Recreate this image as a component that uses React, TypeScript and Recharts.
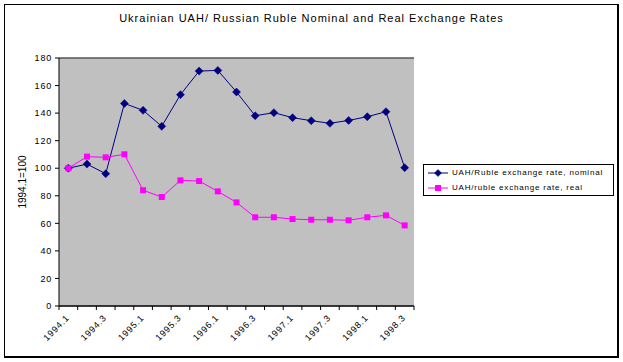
import React from "react";
import { CartesianGrid, Line, LineChart, ReferenceLine, XAxis, YAxis } from "recharts";

const quarters = [
  "1994.1", "1994.2", "1994.3", "1994.4",
  "1995.1", "1995.2", "1995.3", "1995.4",
  "1996.1", "1996.2", "1996.3", "1996.4",
  "1997.1", "1997.2", "1997.3", "1997.4",
  "1998.1", "1998.2", "1998.3",
];
const nominal = [100, 103, 96, 147, 142, 130.4, 153.4, 170.5, 171, 155.3, 138.1, 140.3, 136.7, 134.5, 132.6, 134.7, 137.4, 141, 100.4];
const real = [100, 108.4, 107.9, 110.1, 84, 79.1, 91.2, 90.7, 83.2, 75.2, 64.4, 64.4, 63.1, 62.6, 62.6, 62.2, 64.4, 65.8, 58.5];
const yTicks = [0, 20, 40, 60, 80, 100, 120, 140, 160, 180];

const NOMINAL_LABEL = "UAH/Ruble exchange rate, nominal";
const REAL_LABEL = "UAH/ruble exchange rate, real";
const NAVY = "#000080";
const PINK = "#FF00FF";

const data = quarters.map((q, i) => ({ q, nominal: nominal[i], real: real[i] }));

const PLOT_LEFT = 59;
const PLOT_RIGHT = 414;
const HALF_BAND = (PLOT_RIGHT - PLOT_LEFT) / quarters.length / 2;
const FONT = "'Liberation Sans', Arial, sans-serif";

function Diamond({ cx, cy, r = 4 }: { cx: number; cy: number; r?: number }) {
  if (cx == null || cy == null) return null;
  return <polygon points={`${cx},${cy - r} ${cx + r},${cy} ${cx},${cy + r} ${cx - r},${cy}`} fill={NAVY} stroke={NAVY} strokeWidth={0.5} />;
}

function Square({ cx, cy, s = 3 }: { cx: number; cy: number; s?: number }) {
  if (cx == null || cy == null) return null;
  return <rect x={cx - s} y={cy - s} width={s * 2} height={s * 2} fill={PINK} />;
}

function XTick(props: any) {
  const { x, y, payload } = props;
  const idx = quarters.indexOf(payload.value);
  const showLabel = idx % 2 === 0;
  return (
    <g>
      <line x1={x - HALF_BAND} x2={x - HALF_BAND} y1={y} y2={y + 4} stroke="#000" />
      {idx === quarters.length - 1 && <line x1={x + HALF_BAND} x2={x + HALF_BAND} y1={y} y2={y + 4} stroke="#000" />}
      {showLabel && (
        <text x={x - 3} y={y + 8} transform={`rotate(-45, ${x - 3}, ${y + 8})`} textAnchor="end" dy="0.71em" fontSize={9} fontFamily={FONT} letterSpacing={0.8} fill="#000">
          {payload.value}
        </text>
      )}
    </g>
  );
}

function LegendBox() {
  const row = (label: string, color: string, marker: React.ReactNode) => (
    <div style={{ display: "flex", alignItems: "center", height: 15 }}>
      <svg width={22} height={12} style={{ marginRight: 3 }}>
        <line x1={1} x2={21} y1={6} y2={6} stroke={color} strokeWidth={1} />
        {marker}
      </svg>
      <span style={{ fontSize: 8, letterSpacing: 0.8, fontFamily: FONT, whiteSpace: "nowrap" }}>{label}</span>
    </div>
  );
  return (
    <div style={{ position: "absolute", left: 423, top: 164, border: "1px solid #000", background: "#fff", width: 186, padding: "0 0 0 3px" }}>
      {row(NOMINAL_LABEL, NAVY, <Diamond cx={11} cy={6} r={3.5} />)}
      {row(REAL_LABEL, PINK, <Square cx={11} cy={6} />)}
    </div>
  );
}

export default function App() {
  return (
    <div style={{ position: "absolute", left: 0, top: 0, width: 623, height: 362, background: "#fff", fontFamily: FONT }}>
      <div style={{ position: "absolute", left: 4, top: 4, width: 612, height: 351, borderLeft: "1px solid #000", borderTop: "1px solid #000", borderRight: "2px solid #000", borderBottom: "2px solid #000" }} />
      <div style={{ position: "absolute", left: 0, width: 623, top: 12, textAlign: "center", fontSize: 11, letterSpacing: 1, color: "#000" }}>
        Ukrainian UAH/ Russian Ruble Nominal and Real Exchange Rates
      </div>
      <div style={{ position: "absolute", left: 22, top: 182, transform: "translate(-50%, -50%) rotate(-90deg)", fontSize: 10, whiteSpace: "nowrap", color: "#000" }}>
        1994.1=100
      </div>
      <LineChart width={623} height={362} data={data} margin={{ top: 58, right: 623 - PLOT_RIGHT, left: PLOT_LEFT - 30, bottom: 6 }} style={{ position: "absolute", left: 0, top: 0 }}>
        <CartesianGrid horizontal vertical={false} stroke="#000" fill="#C0C0C0" fillOpacity={1} />
        <XAxis dataKey="q" interval={0} padding={{ left: HALF_BAND, right: HALF_BAND }} height={50} tickSize={0} tickMargin={0} tickLine={false} axisLine={{ stroke: "#000" }} tick={<XTick />} />
        <YAxis yAxisId="l" width={30} domain={[0, 180]} ticks={yTicks} interval={0} tickSize={4} tickMargin={3} axisLine={{ stroke: "#000" }} tickLine={{ stroke: "#000" }} tick={{ fontSize: 9, fill: "#000", fontFamily: FONT, letterSpacing: 0.8 }} />
        <YAxis yAxisId="r" orientation="right" width={0} domain={[0, 180]} ticks={yTicks} tick={false} tickLine={false} axisLine={{ stroke: "#808080" }} />
        <ReferenceLine yAxisId="l" y={180} stroke="#808080" />
        <Line yAxisId="l" dataKey="nominal" name={NOMINAL_LABEL} stroke={NAVY} strokeWidth={1} isAnimationActive={false} dot={(p: any) => <Diamond key={`n${p.index}`} cx={p.cx} cy={p.cy} />} />
        <Line yAxisId="l" dataKey="real" name={REAL_LABEL} stroke={PINK} strokeWidth={1} isAnimationActive={false} dot={(p: any) => <Square key={`r${p.index}`} cx={p.cx} cy={p.cy} />} />
      </LineChart>
      <LegendBox />
    </div>
  );
}
